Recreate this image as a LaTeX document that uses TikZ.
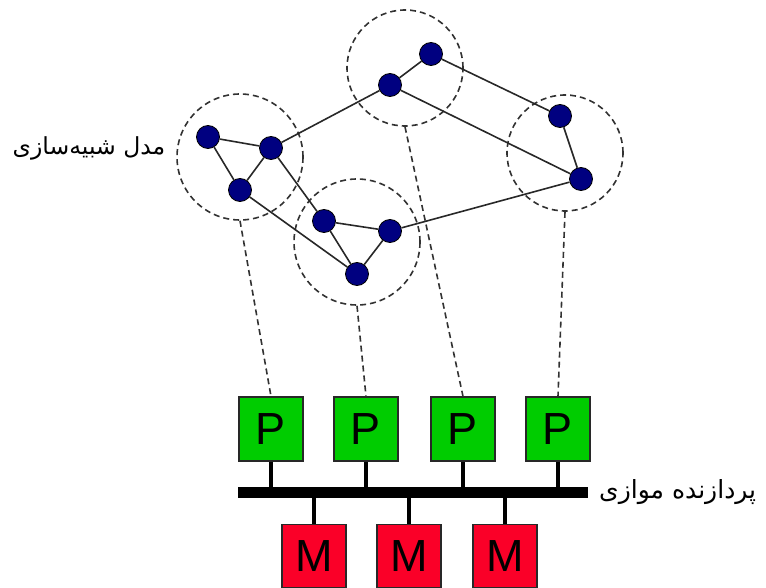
\documentclass[tikz,border=0pt]{standalone}
\usepackage{fontspec}
\setmainfont{Liberation Sans}
\newfontfamily\arabicfont[Script=Arabic]{DejaVu Sans}
\TeXXeTstate=1
\definecolor{vertexblue}{RGB}{0,0,128}
\definecolor{procgreen}{RGB}{0,204,0}
\definecolor{memred}{RGB}{250,0,40}
\definecolor{edgegray}{RGB}{40,40,40}
\definecolor{dashgray}{RGB}{50,50,50}

\begin{document}
\begin{tikzpicture}[x=1pt, y=-1pt,
    vertex/.style={circle, fill=vertexblue, draw=black, line width=0.8pt, minimum size=23pt, inner sep=0pt},
    cluster/.style={circle, draw=dashgray, dash pattern=on 6pt off 4pt, line width=1.6pt, inner sep=0pt},
    edge/.style={draw=edgegray, line width=1.6pt},
    mapline/.style={draw=dashgray, dash pattern=on 6pt off 4pt, line width=1.6pt},
    procbox/.style={rectangle, fill=procgreen, draw=edgegray, line width=1.3pt, minimum width=64pt, minimum height=64pt, inner sep=0pt, font=\fontsize{45}{45}\selectfont},
    membox/.style={rectangle, fill=memred, draw=edgegray, line width=1.3pt, minimum width=64pt, minimum height=63pt, inner sep=0pt, font=\fontsize{45}{45}\selectfont},
    stem/.style={draw=black, line width=4.5pt},
    fatext/.style={font=\fontsize{25}{30}\selectfont\arabicfont, inner sep=0pt}]
        \useasboundingbox (0,0) rectangle (766,588);

        % Partitions of the model
        \node[cluster, minimum size=126pt] (g1) at (240,157) {};
        \node[cluster, minimum size=116pt] (g2) at (405,68) {};
        \node[cluster, minimum size=116pt] (g3) at (565,153) {};
        \node[cluster, minimum size=126pt] (g4) at (357,242) {};

        % Vertices
        \node[vertex] (a1) at (208,137) {};
        \node[vertex] (a2) at (271,148) {};
        \node[vertex] (a3) at (240,190) {};
        \node[vertex] (b1) at (431,54) {};
        \node[vertex] (b2) at (390,85) {};
        \node[vertex] (c1) at (560,116) {};
        \node[vertex] (c2) at (581,179) {};
        \node[vertex] (d1) at (324,221) {};
        \node[vertex] (d2) at (390,231) {};
        \node[vertex] (d3) at (357,274) {};

        % Edges
        \draw[edge] (a1) -- (a2);
        \draw[edge] (a1) -- (a3);
        \draw[edge] (a2) -- (a3);
        \draw[edge] (a2) -- (b2);
        \draw[edge] (a2) -- (d1);
        \draw[edge] (a3) -- (d3);
        \draw[edge] (d1) -- (d2);
        \draw[edge] (d1) -- (d3);
        \draw[edge] (d2) -- (d3);
        \draw[edge] (d2) -- (c2);
        \draw[edge] (b2) -- (b1);
        \draw[edge] (b1) -- (c1);
        \draw[edge] (b2) -- (c2);
        \draw[edge] (c1) -- (c2);

        % Label of the model
        \node[fatext, font=\fontsize{23.5}{28}\selectfont\arabicfont] (simlabel) at (89,148) {\beginR مدل شبیه^^^^200cسازی\endR};

        % Processors
        \node[procbox] (p1) at (271,429) {P};
        \node[procbox] (p2) at (366,429) {P};
        \node[procbox] (p3) at (463,429) {P};
        \node[procbox] (p4) at (558,429) {P};

        % Mapping of partitions to processors
        \draw[mapline] (g1.south) -- (p1.north);
        \draw[mapline] (g4.south) -- (p2.north);
        \draw[mapline] (g2.south) -- (p3.north);
        \draw[mapline] (g3.south) -- (p4.north);

        % Bus
        \node[rectangle, fill=black, minimum width=350pt, minimum height=11pt, inner sep=0pt] (bus) at (413,492) {};
        \node[fatext, anchor=west] (parlabel) at (599,492) {\beginR پردازنده موازی\endR};

        % Memories
        \node[membox] (m1) at (314,556) {M};
        \node[membox] (m2) at (409,556) {M};
        \node[membox] (m3) at (505,556) {M};

        % Stems to the bus
        \foreach \p in {p1,p2,p3,p4}
            \draw[stem] (\p.south) -- (\p.south |- bus.center);
        \foreach \m in {m1,m2,m3}
            \draw[stem] (\m.north) -- (\m.north |- bus.center);
    \end{tikzpicture}
\end{document}
